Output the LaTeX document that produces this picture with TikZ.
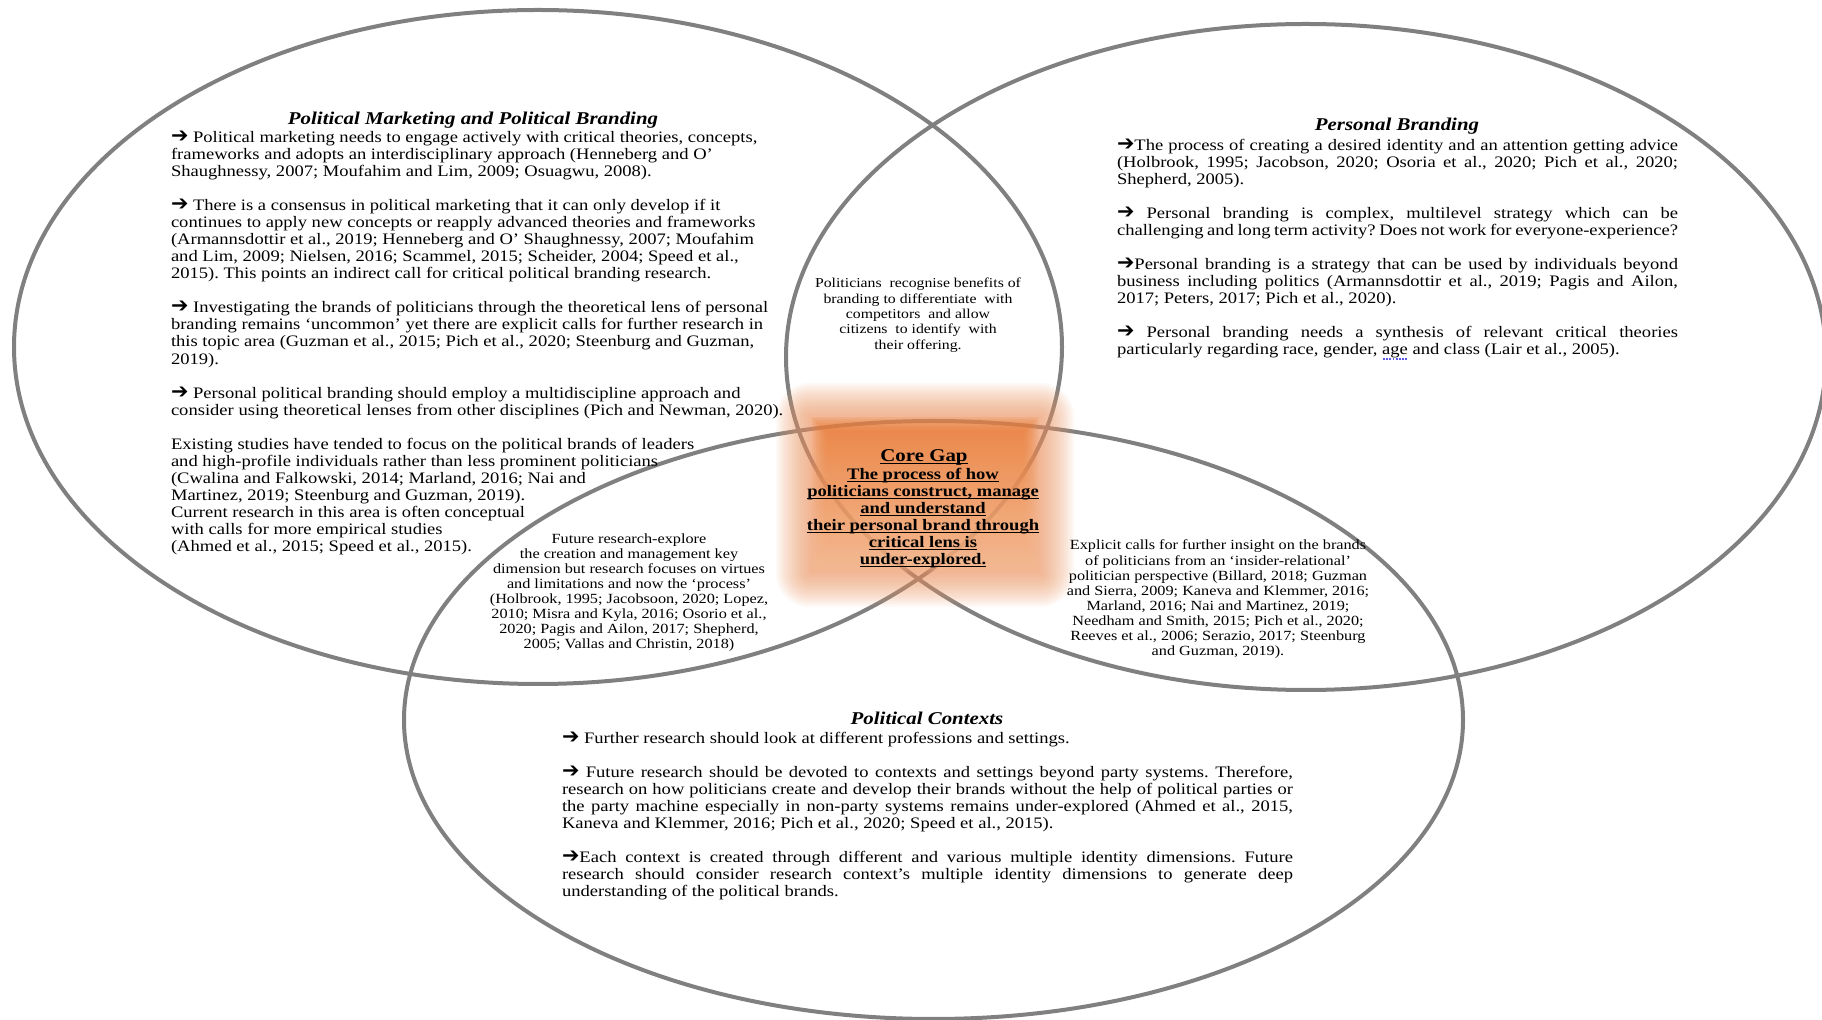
\documentclass[tikz,border=0pt]{standalone}
\usepackage{fontspec}
\setmainfont{Liberation Serif}[FakeStretch=1.16]
\newfontfamily\arrowfont{DejaVu Sans Bold}[Scale=1.3]
\definecolor{venn}{RGB}{128,128,128}
\definecolor{glowA}{RGB}{242,150,95}
\definecolor{coreT}{RGB}{234,118,45}
\definecolor{coreB}{RGB}{245,188,145}
\definecolor{spellc}{RGB}{90,90,230}
\frenchspacing
\newcommand\JL[1]{\hbox to\linewidth{#1}}
\newcommand\NL[1]{\hbox{#1}}
\newcommand\CL[1]{\hbox to\linewidth{\hfil#1\hfil}}
\newcommand\BL{\vskip\baselineskip}
\newcommand\arr{{\arrowfont\char"2794}}
\newsavebox\ulbox
\newcommand\UL[1]{\sbox\ulbox{#1}\rlap{\rule[-1.4pt]{\wd\ulbox}{0.5pt}}\usebox\ulbox}
\newcommand\spell[1]{\sbox\ulbox{#1}\rlap{\raisebox{-2.6pt}{\color{spellc}\hbox to\wd\ulbox{\cleaders\hbox to 1.6pt{\hss\rule{0.9pt}{0.9pt}\hss}\hfil}}}\usebox\ulbox}
\newcommand\bodyfont{\fontsize{8}{8.52}\selectfont}
\newcommand\titlefont{\fontsize{9}{10}\selectfont\bfseries\itshape}
\tikzset{
  vennline/.style={draw=venn, line width=2pt},
  blk/.style={inner sep=0pt, outer sep=0pt},
  ttl/.style={inner sep=0pt, outer sep=0pt, anchor=base, font=\titlefont}
}
\begin{document}
\begin{tikzpicture}[x=0.5pt,y=-0.5pt]
\useasboundingbox (0,0) rectangle (1822,1020);
\fill[white] (0,0) rectangle (1822,1020);
% ellipses
\draw[vennline] (538,347) ellipse [x radius=262pt, y radius=168.5pt];
\draw[vennline] (1306,357) ellipse [x radius=260pt, y radius=166.5pt];
\draw[vennline] (933.5,720) ellipse [x radius=264.75pt, y radius=149.5pt];
% glow of the core gap
\foreach \k in {0,...,17} {
  \fill[glowA, fill opacity=0.055, rounded corners={\k pt}] ({810-2*\k},{417-2*\k}) rectangle ({1040+2*\k},{573+2*\k});
}
\foreach \k in {0,...,7} {
  \shade[top color=coreT, bottom color=coreB, fill opacity=0.14] ({826-2*\k},{432-2*\k}) rectangle ({1024+2*\k},{558+2*\k});
}
% titles
\node[ttl] (t1) at (473,124.5) {Political Marketing and Political Branding};
\node[ttl] (t2) at (1397,130.5) {Personal Branding};
\node[ttl] (t3) at (927,724.5) {Political Contexts};
% left block
\node[blk, anchor=base west] (pm) at (171,142.5) {\begin{minipage}[t]{330pt}\bodyfont
\NL{\arr{} Political marketing needs to engage actively with critical theories, concepts,}
\NL{frameworks and adopts an interdisciplinary approach (Henneberg and O’}
\NL{Shaughnessy, 2007; Moufahim and Lim, 2009; Osuagwu, 2008).}
\BL
\NL{\arr{} There is a consensus in political marketing that it can only develop if it}
\NL{continues to apply new concepts or reapply advanced theories and frameworks}
\NL{(Armannsdottir et al., 2019; Henneberg and O’ Shaughnessy, 2007; Moufahim}
\NL{and Lim, 2009; Nielsen, 2016; Scammel, 2015; Scheider, 2004; Speed et al.,}
\NL{2015). This points an indirect call for critical political branding research.}
\BL
\NL{\arr{} Investigating the brands of politicians through the theoretical lens of personal}
\NL{branding remains ‘uncommon’ yet there are explicit calls for further research in}
\NL{this topic area (Guzman et al., 2015; Pich et al., 2020; Steenburg and Guzman,}
\NL{2019).}
\BL
\NL{\arr{} Personal political branding should employ a multidiscipline approach and}
\NL{consider using theoretical lenses from other disciplines (Pich and Newman, 2020).}
\BL
\NL{Existing studies have tended to focus on the political brands of leaders}
\NL{and high-profile individuals rather than less prominent politicians}
\NL{(Cwalina and Falkowski, 2014; Marland, 2016; Nai and}
\NL{Martinez, 2019; Steenburg and Guzman, 2019).}
\NL{Current research in this area is often conceptual}
\NL{with calls for more empirical studies}
\NL{(Ahmed et al., 2015; Speed et al., 2015).}
\end{minipage}};
% personal branding block
\node[blk, anchor=base west] (pb) at (1117,150.5) {\begin{minipage}[t]{280.5pt}\bodyfont
\JL{\arr The process of creating a desired identity and an attention getting advice}
\JL{(Holbrook, 1995; Jacobson, 2020; Osoria et al., 2020; Pich et al., 2020;}
\NL{Shepherd, 2005).}
\BL
\JL{\arr{} Personal branding is complex, multilevel strategy which can be}
\JL{challenging and long term activity? Does not work for everyone-experience?}
\BL
\JL{\arr Personal branding is a strategy that can be used by individuals beyond}
\JL{business including politics (Armannsdottir et al., 2019; Pagis and Ailon,}
\NL{2017; Peters, 2017; Pich et al., 2020).}
\BL
\JL{\arr{} Personal branding needs a synthesis of relevant critical theories}
\NL{particularly regarding race, gender, \spell{age} and class (Lair et al., 2005).}
\end{minipage}};
% political contexts block
\node[blk, anchor=base west] (pc) at (562,743.5) {\begin{minipage}[t]{365.5pt}\bodyfont
\NL{\arr{} Further research should look at different professions and settings.}
\BL
\JL{\arr{} Future research should be devoted to contexts and settings beyond party systems. Therefore,}
\JL{research on how politicians create and develop their brands without the help of political parties or}
\JL{the party machine especially in non-party systems remains under-explored (Ahmed et al., 2015,}
\NL{Kaneva and Klemmer, 2016; Pich et al., 2020; Speed et al., 2015).}
\BL
\JL{\arr Each context is created through different and various multiple identity dimensions. Future}
\JL{research should consider research context’s multiple identity dimensions to generate deep}
\NL{understanding of the political brands.}
\end{minipage}};
% top lens
\node[blk, anchor=base] (lens) at (918,288) {\begin{minipage}[t]{130pt}\fontsize{6.8}{7.65}\selectfont
\CL{Politicians\ \ recognise benefits of}
\CL{branding to differentiate\ \ with}
\CL{competitors\ \ and allow}
\CL{citizens\ \ to identify\ \ with}
\CL{their offering.}
\end{minipage}};
% core gap
\node[blk, anchor=base] (cg) at (924,461.5) {\fontsize{9}{10}\selectfont\bfseries\UL{Core Gap}};
\node[blk, anchor=base] (core) at (923,479.5) {\begin{minipage}[t]{140pt}\fontsize{8}{8.5}\selectfont\bfseries
\CL{\UL{The process of how}}
\CL{\UL{politicians construct, manage}}
\CL{\UL{and understand}}
\CL{\UL{their personal brand through}}
\CL{\UL{critical lens is}}
\CL{\UL{under-explored.}}
\end{minipage}};
% bottom left intersection
\node[blk, anchor=base] (bl) at (629,544) {\begin{minipage}[t]{160pt}\fontsize{7}{7.5}\selectfont
\CL{Future research-explore}
\CL{the creation and management key}
\CL{dimension but research focuses on virtues}
\CL{and limitations and now the ‘process’}
\CL{(Holbrook, 1995; Jacobsoon, 2020; Lopez,}
\CL{2010; Misra and Kyla, 2016; Osorio et al.,}
\CL{2020; Pagis and Ailon, 2017; Shepherd,}
\CL{2005; Vallas and Christin, 2018)}
\end{minipage}};
% bottom right intersection
\node[blk, anchor=base] (br) at (1218,550) {\begin{minipage}[t]{170pt}\fontsize{7}{7.55}\selectfont
\CL{Explicit calls for further insight on the brands}
\CL{of politicians from an ‘insider-relational’}
\CL{politician perspective (Billard, 2018; Guzman}
\CL{and Sierra, 2009; Kaneva and Klemmer, 2016;}
\CL{Marland, 2016; Nai and Martinez, 2019;}
\CL{Needham and Smith, 2015; Pich et al., 2020;}
\CL{Reeves et al., 2006; Serazio, 2017; Steenburg}
\CL{and Guzman, 2019).}
\end{minipage}};
\end{tikzpicture}
\end{document}
